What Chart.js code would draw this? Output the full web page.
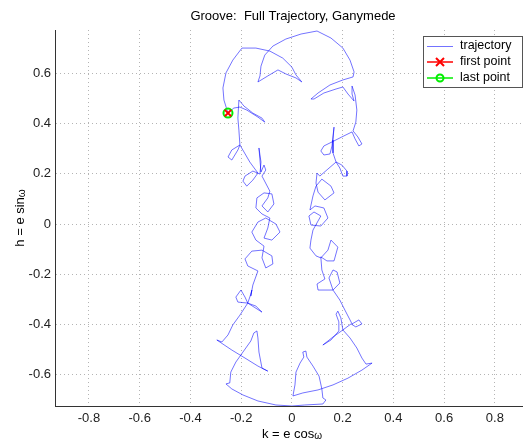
<!DOCTYPE html>
<html>
<head>
<meta charset="utf-8">
<script src="https://cdn.jsdelivr.net/npm/chart.js@4/dist/chart.umd.min.js"></script>
<style>
  html, body { margin: 0; padding: 0; background: #fff; }
  #wrap { width: 523px; height: 442px; }
</style>
</head>
<body>
<div id="wrap"><canvas id="c" width="523" height="442"></canvas></div>
<script>
// k = e cos(omega) values along the trajectory
const kValues = [
 -0.252,-0.268,-0.272,-0.260,-0.233,-0.197,-0.142,-0.087,-0.036,0.000,
 0.016,0.039,0.016,-0.024,-0.055,-0.095,-0.134,-0.126,-0.122,-0.107,
 -0.075,-0.024,0.036,0.099,0.154,0.201,0.229,0.245,0.241,0.201,
 0.150,0.103,0.075,0.087,0.126,0.174,0.201,0.221,0.245,0.237,
 0.237,0.249,0.256,0.252,0.241,0.260,0.276,0.264,0.249,0.237,
 0.197,0.158,0.126,0.114,0.126,0.150,0.158,0.162,0.166,0.162,
 0.162,0.174,0.197,0.217,0.217,0.201,0.189,0.174,0.142,0.110,
 0.099,0.095,0.103,0.130,0.166,0.154,0.118,0.095,0.083,0.071,
 0.091,0.126,0.142,0.114,0.075,0.067,0.087,0.114,0.083,0.075,
 0.071,0.095,0.114,0.142,0.154,0.181,0.166,0.138,0.114,0.118,
 0.130,0.099,0.103,0.162,0.189,0.178,0.162,0.146,0.162,0.189,
 0.209,0.229,0.237,0.264,0.276,0.252,0.233,0.201,0.162,0.122,
 0.154,0.185,0.185,0.174,0.181,0.193,0.201,0.229,0.256,0.276,
 0.292,0.316,0.276,0.221,0.162,0.103,0.043,0.004,0.012,0.016,
 0.032,0.047,0.043,0.055,0.059,0.083,0.107,0.118,0.122,0.134,
 0.122,0.051,0.000,-0.063,-0.134,-0.193,-0.237,-0.260,-0.245,-0.241,
 -0.221,-0.193,-0.162,-0.150,-0.138,-0.134,-0.130,-0.118,-0.095,-0.134,
 -0.185,-0.237,-0.296,-0.276,-0.252,-0.233,-0.205,-0.174,-0.118,-0.142,
 -0.174,-0.213,-0.221,-0.201,-0.185,-0.174,-0.162,-0.158,-0.162,-0.154,
 -0.134,-0.174,-0.185,-0.158,-0.118,-0.079,-0.075,-0.103,-0.118,-0.110,
 -0.142,-0.158,-0.134,-0.103,-0.063,-0.047,-0.079,-0.110,-0.095,-0.087,
 -0.118,-0.142,-0.138,-0.110,-0.079,-0.071,-0.095,-0.118,-0.095,-0.087,
 -0.118,-0.103,-0.110,-0.122,-0.126,-0.130,
 -0.122,-0.126,-0.154,-0.185,-0.193,-0.178,-0.154,-0.134,-0.166,-0.205,
 -0.237,-0.252,-0.237,-0.213,-0.205,-0.209,-0.213,-0.209,-0.189,-0.154,
 -0.118,-0.107,-0.134,-0.178,-0.205,-0.229,-0.252
];
// h = e sin(omega) values along the trajectory
const hValues = [
 0.442,0.494,0.542,0.602,0.653,0.701,0.701,0.689,0.661,0.625,
 0.594,0.566,0.582,0.598,0.614,0.590,0.566,0.590,0.629,0.673,
 0.709,0.737,0.757,0.769,0.741,0.701,0.653,0.606,0.586,0.574,
 0.554,0.522,0.498,0.498,0.522,0.538,0.546,0.518,0.490,0.518,
 0.550,0.514,0.454,0.406,0.371,0.347,0.319,0.311,0.339,0.367,
 0.347,0.327,0.311,0.291,0.275,0.279,0.311,0.351,0.386,0.335,
 0.283,0.247,0.235,0.211,0.191,0.191,0.223,0.247,0.219,0.191,
 0.203,0.163,0.127,0.096,0.124,0.151,0.179,0.151,0.112,0.056,
 0.072,0.064,0.024,-0.008,-0.004,0.032,0.048,0.032,-0.024,-0.064,
 -0.096,-0.127,-0.135,-0.104,-0.064,-0.092,-0.147,-0.147,-0.131,-0.183,
 -0.219,-0.239,-0.263,-0.263,-0.235,-0.191,-0.183,-0.215,-0.263,-0.303,
 -0.343,-0.382,-0.398,-0.382,-0.398,-0.410,-0.398,-0.422,-0.450,-0.482,
 -0.462,-0.426,-0.390,-0.359,-0.347,-0.374,-0.422,-0.454,-0.494,-0.534,
 -0.558,-0.554,-0.582,-0.614,-0.641,-0.661,-0.673,-0.685,-0.641,-0.590,
 -0.554,-0.530,-0.510,-0.506,-0.530,-0.566,-0.606,-0.657,-0.693,-0.701,
 -0.717,-0.721,-0.725,-0.721,-0.705,-0.681,-0.657,-0.637,-0.633,-0.590,
 -0.550,-0.510,-0.466,-0.434,-0.426,-0.454,-0.510,-0.574,-0.586,-0.566,
 -0.534,-0.502,-0.462,-0.470,-0.442,-0.402,-0.363,-0.315,-0.351,-0.327,
 -0.315,-0.311,-0.291,-0.263,-0.291,-0.315,-0.279,-0.263,-0.287,-0.243,
 -0.187,-0.167,-0.139,-0.108,-0.104,-0.127,-0.159,-0.175,-0.135,-0.088,
 -0.064,-0.032,0.008,0.024,0.000,-0.032,-0.064,-0.056,-0.016,0.024,
 0.040,0.064,0.104,0.124,0.120,0.080,0.048,0.072,0.104,0.131,
 0.191,0.215,0.235,0.207,0.255,0.303,
 0.247,0.199,0.211,0.191,0.171,0.151,0.175,0.203,0.247,0.315,
 0.295,0.267,0.255,0.295,0.315,0.374,0.422,0.494,0.470,0.442,
 0.422,0.406,0.426,0.454,0.466,0.462,0.442
];
const xTicks = [-0.8,-0.6,-0.4,-0.2,0,0.2,0.4,0.6,0.8];
const yTicks = [-0.6,-0.4,-0.2,0,0.2,0.4,0.6];
const seriesNames = ['trajectory','first point','last point'];
const titleText = 'Groove:  Full Trajectory, Ganymede';

const trajPoints = kValues.map((k, i) => ({x: k, y: hValues[i]}));
const firstPt = [{x: kValues[0], y: hValues[0]}];
const lastPt = [{x: kValues[kValues.length - 1], y: hValues[hValues.length - 1]}];

const FONT = 'Arial, "Liberation Sans", Helvetica, sans-serif';
const LINE_COLOR = 'rgba(0,0,255,0.55)';

function fmt(v) { const r = Math.round(v * 10) / 10; return r === 0 ? '0' : String(r); }

function drawLabel(ctx, main, sym, cx, cy) {
  ctx.font = '13px ' + FONT;
  const w1 = ctx.measureText(main).width;
  ctx.font = '10px ' + FONT;
  const w2 = ctx.measureText(sym).width;
  const x = cx - (w1 + w2) / 2;
  ctx.fillStyle = '#000';
  ctx.textAlign = 'left';
  ctx.textBaseline = 'alphabetic';
  ctx.font = '13px ' + FONT;
  ctx.fillText(main, x, cy + 4);
  ctx.font = '10px ' + FONT;
  ctx.fillText(sym, x + w1, cy + 5);
}

const decor = {
  id: 'decor',
  afterDraw(chart) {
    const ctx = chart.ctx;
    ctx.save();
    ctx.fillStyle = '#000';
    ctx.font = '13px ' + FONT;
    ctx.textAlign = 'center';
    ctx.textBaseline = 'middle';
    ctx.fillText(titleText, 293, 16);
    drawLabel(ctx, 'k = e cos', 'ω', 292, 434);
    ctx.save();
    ctx.translate(20, 218);
    ctx.rotate(-Math.PI / 2);
    drawLabel(ctx, 'h = e sin', 'ω', 0, 0);
    ctx.restore();
    // legend
    const lx = 423.5, ly = 36.5, lw = 99, lh = 51;
    ctx.fillStyle = '#fff';
    ctx.fillRect(lx, ly, lw, lh);
    ctx.strokeStyle = '#555';
    ctx.lineWidth = 1;
    ctx.strokeRect(lx, ly, lw, lh);
    const rows = [46, 62, 78];
    const sx0 = 427, sx1 = 453, mx = 440;
    ctx.font = '12.5px ' + FONT;
    ctx.textAlign = 'left';
    ctx.textBaseline = 'middle';
    ctx.strokeStyle = LINE_COLOR;
    ctx.beginPath(); ctx.moveTo(sx0, rows[0] + 0.5); ctx.lineTo(sx1, rows[0] + 0.5); ctx.stroke();
    ctx.strokeStyle = '#ff0000';
    ctx.lineWidth = 1.5;
    ctx.beginPath(); ctx.moveTo(sx0, rows[1]); ctx.lineTo(sx1, rows[1]); ctx.stroke();
    ctx.lineWidth = 2;
    ctx.beginPath();
    ctx.moveTo(mx - 4, rows[1] - 4); ctx.lineTo(mx + 4, rows[1] + 4);
    ctx.moveTo(mx - 4, rows[1] + 4); ctx.lineTo(mx + 4, rows[1] - 4);
    ctx.stroke();
    ctx.strokeStyle = '#00ee00';
    ctx.lineWidth = 1.5;
    ctx.beginPath(); ctx.moveTo(sx0, rows[2]); ctx.lineTo(sx1, rows[2]); ctx.stroke();
    ctx.lineWidth = 2;
    ctx.beginPath(); ctx.arc(mx, rows[2], 3.5, 0, Math.PI * 2); ctx.stroke();
    ctx.fillStyle = '#000';
    seriesNames.forEach((n, i) => ctx.fillText(n, 460, rows[i]));
    ctx.restore();
  }
};

const gridCommon = { color: '#b4b4b4', lineWidth: 1, drawTicks: false };

new Chart(document.getElementById('c'), {
  type: 'scatter',
  data: {
    datasets: [
      {
        label: seriesNames[0], data: trajPoints, showLine: true,
        borderColor: LINE_COLOR, borderWidth: 1, pointRadius: 0, pointHoverRadius: 0,
        tension: 0, fill: false, order: 3
      },
      {
        label: seriesNames[2], data: lastPt, pointStyle: 'circle',
        pointRadius: 4.5, pointBorderColor: '#00ee00', pointBackgroundColor: 'rgba(0,0,0,0)',
        pointBorderWidth: 2, order: 2
      },
      {
        label: seriesNames[1], data: firstPt, pointStyle: 'crossRot',
        pointRadius: 4.5, pointBorderColor: '#ff0000', pointBorderWidth: 2, order: 1
      }
    ]
  },
  options: {
    responsive: false,
    animation: false,
    devicePixelRatio: 1,
    events: [],
    layout: { autoPadding: false, padding: { top: 30, right: 0, left: 0, bottom: 0 } },
    plugins: { legend: { display: false }, tooltip: { enabled: false }, title: { display: false } },
    scales: {
      x: {
        type: 'linear', min: -0.934, max: 0.911,
        afterBuildTicks: s => { s.ticks = xTicks.map(v => ({value: v})); },
        afterFit: s => { s.height = 36; s.paddingLeft = 0; s.paddingRight = 0; },
        grid: gridCommon,
        border: { display: true, color: '#333', width: 1, dash: [1, 3] },
        ticks: { padding: 5, color: '#222', font: { size: 13, family: FONT }, callback: v => fmt(v), maxRotation: 0, autoSkip: false }
      },
      y: {
        type: 'linear', min: -0.725, max: 0.773,
        afterBuildTicks: s => { s.ticks = yTicks.map(v => ({value: v})); },
        afterFit: s => { s.width = 55; s.paddingTop = 0; s.paddingBottom = 0; },
        grid: gridCommon,
        border: { display: true, color: '#333', width: 1, dash: [1, 3] },
        ticks: { padding: 4, color: '#222', font: { size: 13, family: FONT }, callback: v => fmt(v), autoSkip: false }
      }
    }
  },
  plugins: [decor]
});
</script>
</body>
</html>
